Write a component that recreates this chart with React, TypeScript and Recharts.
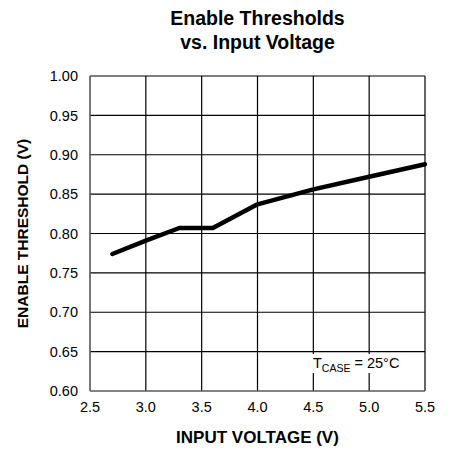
import React from 'react';
import { LineChart, Line, XAxis, YAxis, CartesianGrid, Label } from 'recharts';

const inputVoltage = [2.7, 3.0, 3.3, 3.6, 4.0, 4.5, 5.0, 5.5];
const enableThreshold = [0.774, 0.791, 0.807, 0.807, 0.837, 0.856, 0.872, 0.888];
const xTicks = [2.5, 3.0, 3.5, 4.0, 4.5, 5.0, 5.5];
const yTicks = [0.6, 0.65, 0.7, 0.75, 0.8, 0.85, 0.9, 0.95, 1.0];

const data = inputVoltage.map((v, i) => ({ vin: v, threshold: enableThreshold[i] }));

const FONT = '"Liberation Sans", Arial, sans-serif';

const App: React.FC = () => {
    return (
        <div style={{ position: 'absolute', left: 0, top: 0, width: 450, height: 450, background: '#fff', fontFamily: FONT }}>
            <div
                style={{
                    position: 'absolute',
                    left: 90,
                    width: 335,
                    top: 6,
                    textAlign: 'center',
                    fontWeight: 'bold',
                    fontSize: 19.5,
                    lineHeight: '24px',
                    color: '#000',
                }}
            >
                Enable Thresholds
                <br />
                vs. Input Voltage
            </div>
            <LineChart
                width={450}
                height={450}
                data={data}
                margin={{ top: 76, right: 25, left: 0, bottom: 0 }}
            >
                <CartesianGrid stroke="#000" strokeWidth={1.2} />
                <XAxis
                    dataKey="vin"
                    type="number"
                    domain={[2.5, 5.5]}
                    ticks={xTicks}
                    tickFormatter={(v: number) => v.toFixed(1)}
                    tickLine={false}
                    tickMargin={5}
                    stroke="#888"
                    tick={{ fill: '#000', fontSize: 14.5, fontFamily: FONT }}
                    interval={0}
                    height={59}
                >
                    <Label
                        value="INPUT VOLTAGE (V)"
                        position="insideBottom"
                        offset={7}
                        style={{ fill: '#000', fontSize: 17, fontWeight: 'bold', fontFamily: FONT }}
                    />
                </XAxis>
                <YAxis
                    type="number"
                    domain={[0.6, 1.0]}
                    ticks={yTicks}
                    tickFormatter={(v: number) => v.toFixed(2)}
                    tickLine={false}
                    tickMargin={6}
                    stroke="#888"
                    tick={{ fill: '#000', fontSize: 14.5, fontFamily: FONT }}
                    interval={0}
                    width={90}
                >
                    <Label
                        value="ENABLE THRESHOLD (V)"
                        angle={-90}
                        position="insideLeft"
                        offset={22}
                        style={{ textAnchor: 'middle', fill: '#000', fontSize: 15.5, fontWeight: 'bold', fontFamily: FONT }}
                    />
                </YAxis>
                <Line
                    type="linear"
                    dataKey="threshold"
                    stroke="#000"
                    strokeWidth={4.5}
                    strokeLinejoin="round"
                    strokeLinecap="round"
                    dot={false}
                    isAnimationActive={false}
                />
            </LineChart>
            <div
                style={{
                    position: 'absolute',
                    left: 311,
                    top: 354,
                    fontSize: 14.5,
                    color: '#000',
                    background: '#fff',
                    padding: '0 2px',
                    lineHeight: '18px',
                    whiteSpace: 'nowrap',
                }}
            >
                T<span style={{ fontSize: 10.5, position: 'relative', top: 4 }}>CASE</span> = 25°C
            </div>
        </div>
    );
};

export default App;
